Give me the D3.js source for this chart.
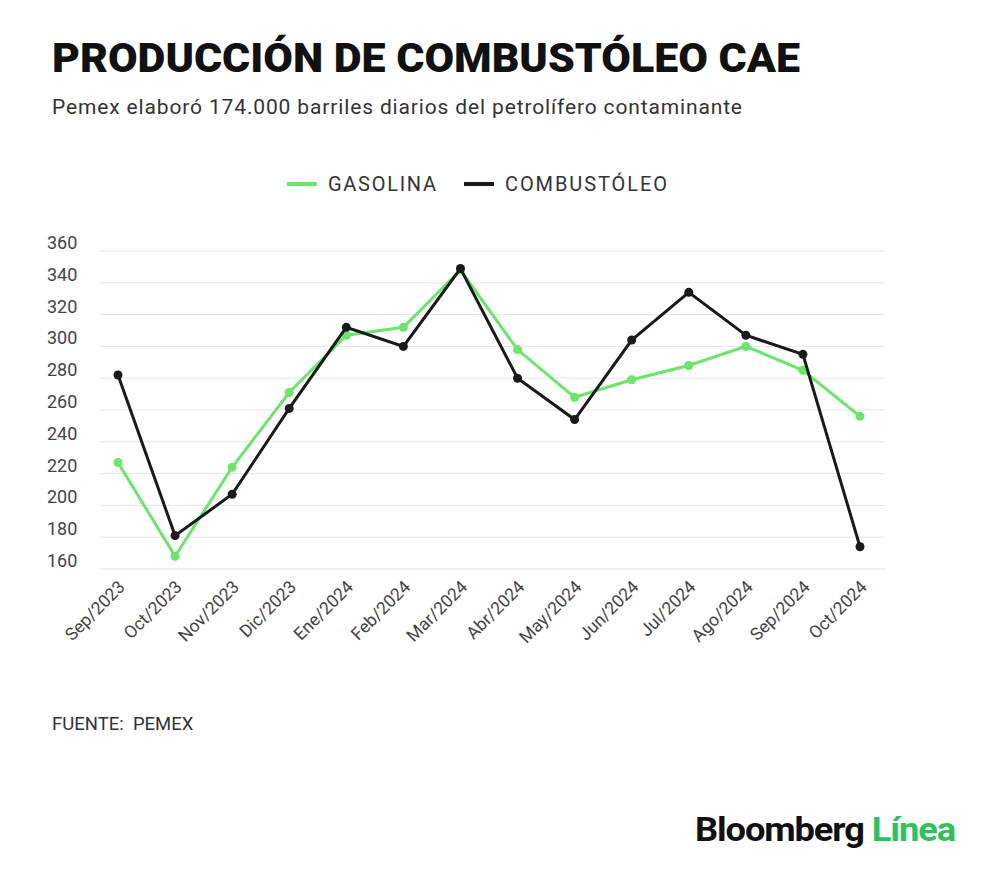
<!DOCTYPE html>
<html lang="es">
<head>
<meta charset="UTF-8">
<script src="https://d3js.org/d3.v7.min.js"></script>
<style>
  body { margin: 0; background: #fff; font-family: Roboto, sans-serif; }
</style>
</head>
<body>
<script>
  const months = ['Sep/2023','Oct/2023','Nov/2023','Dic/2023','Ene/2024','Feb/2024','Mar/2024','Abr/2024','May/2024','Jun/2024','Jul/2024','Ago/2024','Sep/2024','Oct/2024'];
  const gasolina = [227,168,224,271,307,312,348,298,268,279,288,300,285,256];
  const combustoleo = [282,181,207,261,312,300,349,280,254,304,334,307,295,174];
  const yTicks = [160,180,200,220,240,260,280,300,320,340,360];

  const W = 1000, H = 871;
  const svg = d3.select('body').append('svg').attr('width', W).attr('height', H);

  svg.append('text').attr('x', 52).attr('y', 72)
    .style('font', '900 40px Roboto').attr('fill', '#111')
    .attr('textLength', 748).attr('lengthAdjust', 'spacingAndGlyphs')
    .text('PRODUCCIÓN DE COMBUSTÓLEO CAE');
  svg.append('text').attr('x', 52).attr('y', 114)
    .style('font', '21px Roboto').attr('fill', '#333')
    .attr('textLength', 690)
    .text('Pemex elaboró 174.000 barriles diarios del petrolífero contaminante');

  // legend
  const leg = [['GASOLINA', '#6be56b', 287, 108], ['COMBUSTÓLEO', '#1a1a1a', 464, 162]];
  leg.forEach(([t, c, x, len]) => {
    svg.append('line').attr('x1', x).attr('x2', x + 30).attr('y1', 184).attr('y2', 184)
      .attr('stroke', c).attr('stroke-width', 4);
    svg.append('text').attr('x', x + 41).attr('y', 191)
      .style('font', '20px Roboto').attr('fill', '#333')
      .attr('textLength', len).text(t);
  });

  const x = d3.scalePoint().domain(months).range([118, 860]);
  const y = d3.scaleLinear().domain([160, 360]).range([569, 251]);

  svg.append('g').selectAll('line').data(yTicks).join('line')
    .attr('x1', 100).attr('x2', 885)
    .attr('y1', d => y(d)).attr('y2', d => y(d))
    .attr('stroke', '#e6e6e6');
  svg.append('g').selectAll('text').data(yTicks).join('text')
    .attr('x', 47).attr('y', d => y(d) - 2)
    .style('font', '18px Roboto').attr('fill', '#444')
    .text(d => d);

  svg.append('g').selectAll('text').data(months).join('text')
    .attr('transform', d => `translate(${x(d) + 8},${588}) rotate(-45)`)
    .attr('text-anchor', 'end')
    .style('font', '17.5px Roboto').attr('fill', '#444')
    .text(d => d);

  const line = d3.line().x((d, i) => x(months[i])).y(d => y(d));
  [[gasolina, '#6be56b'], [combustoleo, '#1a1a1a']].forEach(([data, c]) => {
    svg.append('path').datum(data).attr('d', line)
      .attr('fill', 'none').attr('stroke', c).attr('stroke-width', 3);
    svg.append('g').selectAll('circle').data(data).join('circle')
      .attr('cx', (d, i) => x(months[i])).attr('cy', d => y(d))
      .attr('r', 4.5).attr('fill', c);
  });

  svg.append('text').attr('x', 52).attr('y', 730)
    .style('font', '18.5px Roboto').attr('fill', '#333')
    .attr('xml:space', 'preserve').text('FUENTE:  PEMEX');

  const logo = svg.append('text').attr('x', 955).attr('y', 841).attr('text-anchor', 'end')
    .style('font', '700 33px Roboto').style('letter-spacing', '-1px')
    .attr('textLength', 260).attr('lengthAdjust', 'spacingAndGlyphs');
  logo.append('tspan').attr('fill', '#111').text('Bloomberg ');
  logo.append('tspan').attr('fill', '#2fc25b').text('Línea');
</script>
</body>
</html>
